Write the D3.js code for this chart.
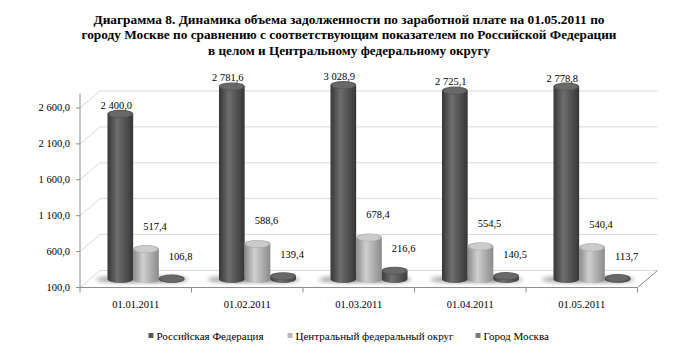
<!DOCTYPE html>
<html><head><meta charset="utf-8">
<script src="https://cdn.jsdelivr.net/npm/d3@7"></script>
<style>body{margin:0;background:#fff}svg{display:block}
svg text{font-family:"Liberation Serif","Tinos","Times New Roman","DejaVu Serif",serif;}
</style>
</head><body>
<svg id="chart" width="698" height="357"></svg>
<script>
// ---- data ----
const titleLines = [
  "Диаграмма 8. Динамика объема задолженности по заработной плате на 01.05.2011 по",
  "городу Москве по сравнению с соответствующим  показателем по Российской Федерации",
  "в целом и Центральному федеральному округу"
];
const categories = ["01.01.2011","01.02.2011","01.03.2011","01.04.2011","01.05.2011"];
const seriesNames = ["Российская Федерация","Центральный федеральный округ","Город Москва"];
const russia  = [2400.0, 2781.6, 3028.9, 2725.1, 2778.8];
const central = [517.4, 588.6, 678.4, 554.5, 540.4];
const moscow  = [106.8, 139.4, 216.6, 140.5, 113.7];
const yTicks = [100, 600, 1100, 1600, 2100, 2600];
const yMin = 100, yMax = 2800;

// ---- layout ----
const svg = d3.select("#chart");
const DX = 20, DY = -17;
const x = d3.scaleBand().domain(categories).range([80, 637.5]);
const y = d3.scaleLinear().domain([yMin, yMax]).range([287.5, 93.6]);
const xs = d3.scaleBand().domain(seriesNames).range([17.5, 94.5]);
const seriesData = [russia, central, moscow];
const fmt = d3.formatLocale({decimal: ",", thousands: "\u00a0", grouping: [3]}).format(",.1f");

// gradients
const defs = svg.append("defs");
const palettes = [
  {edge:"#363636", mid:"#6e6e6e", top:"#686868", topEdge:"#4e4e4e"},
  {edge:"#8a8a8a", mid:"#d0d0d0", top:"#cbcbcb", topEdge:"#a6a6a6"},
  {edge:"#3e3e3e", mid:"#707070", top:"#686868", topEdge:"#505050"}
];
palettes.forEach((p, i) => {
  const g = defs.append("linearGradient").attr("id", "body" + i).attr("x1", 0).attr("x2", 1).attr("y1", 0).attr("y2", 0);
  g.append("stop").attr("offset", "0%").attr("stop-color", p.edge);
  g.append("stop").attr("offset", "38%").attr("stop-color", p.mid);
  g.append("stop").attr("offset", "100%").attr("stop-color", p.edge);
  const t = defs.append("radialGradient").attr("id", "top" + i);
  t.append("stop").attr("offset", "0%").attr("stop-color", p.top);
  t.append("stop").attr("offset", "75%").attr("stop-color", p.top);
  t.append("stop").attr("offset", "100%").attr("stop-color", p.topEdge);
});
defs.append("filter").attr("id", "blur").attr("x", "-50%").attr("y", "-200%").attr("width", "200%").attr("height", "500%")
  .append("feGaussianBlur").attr("stdDeviation", 2.2);

// title
svg.append("g").selectAll("text").data(titleLines).join("text")
  .attr("x", 349).attr("y", (d, i) => 23.5 + i * 15.5)
  .attr("text-anchor", "middle").attr("font-weight", "bold")
  .attr("font-size", 13.5).attr("fill", "#000")
  .attr("textLength", (d, i) => [511, 535, 282][i]).attr("lengthAdjust", "spacingAndGlyphs")
  .text(d => d);

// back wall gridlines
const x0 = x.range()[0], x1 = x.range()[1];
svg.append("g").selectAll("line").data(yTicks).join("line")
  .attr("x1", x0 + DX).attr("x2", x1 + DX).attr("y1", d => y(d) + DY).attr("y2", d => y(d) + DY)
  .attr("stroke", "#d9d9d9").attr("stroke-width", 1);
// side wall diagonals
svg.append("g").selectAll("line").data(yTicks).join("line")
  .attr("x1", x0).attr("x2", x0 + DX).attr("y1", d => y(d)).attr("y2", d => y(d) + DY)
  .attr("stroke", "#d9d9d9").attr("stroke-width", 1);

// bars
const barG = svg.append("g");
const w = xs.bandwidth(), rx = w / 2, ry = 4;
const base = y(yMin) + DY / 2;
const bars = [];
categories.forEach((c, ci) => {
  seriesNames.forEach((s, si) => {
    const v = seriesData[si][ci];
    const cx = x(c) + xs(s) + w / 2 + DX / 2;
    const top = y(Math.min(v, yMax)) + DY / 2;
    bars.push({c, s, si, ci, v, cx, top});
  });
});
// shadows
barG.selectAll("ellipse.sh").data(bars).join("ellipse").attr("class", "sh")
  .attr("cx", d => d.cx - 4).attr("cy", base + 0.5).attr("rx", rx * 1.6).attr("ry", 3)
  .attr("fill", "#707070").attr("opacity", 0.65).attr("filter", "url(#blur)");
// bodies
barG.selectAll("path.body").data(bars).join("path").attr("class", "body")
  .attr("d", d => `M${d.cx - rx},${d.top} L${d.cx - rx},${base} A${rx},${ry} 0 0 0 ${d.cx + rx},${base} L${d.cx + rx},${d.top} Z`)
  .attr("fill", d => `url(#body${d.si})`);
// tops
barG.selectAll("ellipse.top").data(bars).join("ellipse").attr("class", "top")
  .attr("cx", d => d.cx).attr("cy", d => d.top).attr("rx", rx).attr("ry", ry)
  .attr("fill", d => `url(#top${d.si})`);

// data labels
const lblOff = [{dx: -4, dy: -5}, {dx: 9, dy: -19.5}, {dx: 9, dy: -18.5}];
svg.append("g").selectAll("text").data(bars).join("text")
  .attr("x", d => d.cx + lblOff[d.si].dx).attr("y", d => d.top + lblOff[d.si].dy)
  .attr("text-anchor", "middle").attr("font-size", 10.5).attr("fill", "#000")
  .text(d => fmt(d.v));

// axes lines
const axisCol = "#8c8c8c";
const ax = svg.append("g").attr("stroke", axisCol).attr("stroke-width", 1).attr("fill", "none");
ax.append("line").attr("x1", x0).attr("x2", x0).attr("y1", y(yMax)).attr("y2", y(yMin));
ax.append("line").attr("x1", x0).attr("x2", x1).attr("y1", y(yMin)).attr("y2", y(yMin));
ax.append("line").attr("x1", x1).attr("x2", x1 + DX).attr("y1", y(yMin)).attr("y2", y(yMin) + DY);
ax.selectAll("line.yt").data(yTicks).join("line").attr("class", "yt")
  .attr("x1", x0 - 4).attr("x2", x0).attr("y1", d => y(d)).attr("y2", d => y(d));
const bounds = categories.map(c => x(c)).concat([x1]);
ax.selectAll("line.xt").data(bounds).join("line").attr("class", "xt")
  .attr("x1", d => d).attr("x2", d => d).attr("y1", y(yMin)).attr("y2", y(yMin) + 5);

// y labels
svg.append("g").selectAll("text").data(yTicks).join("text")
  .attr("x", 70).attr("y", d => y(d) + 3.5).attr("text-anchor", "end")
  .attr("font-size", 10.5).attr("fill", "#000")
  .text(d => fmt(d));
// x labels
svg.append("g").selectAll("text").data(categories).join("text")
  .attr("x", d => x(d) + x.bandwidth() / 2).attr("y", 307.5).attr("text-anchor", "middle")
  .attr("font-size", 10.5).attr("fill", "#000")
  .text(d => d);

// legend
const legX = [148.5, 287.5, 475.5];
const legCol = ["#5a5a5a", "#b8b8b8", "#7a7a7a"];
const leg = svg.append("g").selectAll("g").data(seriesNames).join("g")
  .attr("transform", (d, i) => `translate(${legX[i]},333)`);
leg.append("rect").attr("width", 5).attr("height", 5).attr("fill", (d, i) => legCol[i]);
leg.append("text").attr("x", 8).attr("y", 6.5).attr("font-size", 11)
  .attr("fill", "#000").text(d => d);
</script>
</body></html>
